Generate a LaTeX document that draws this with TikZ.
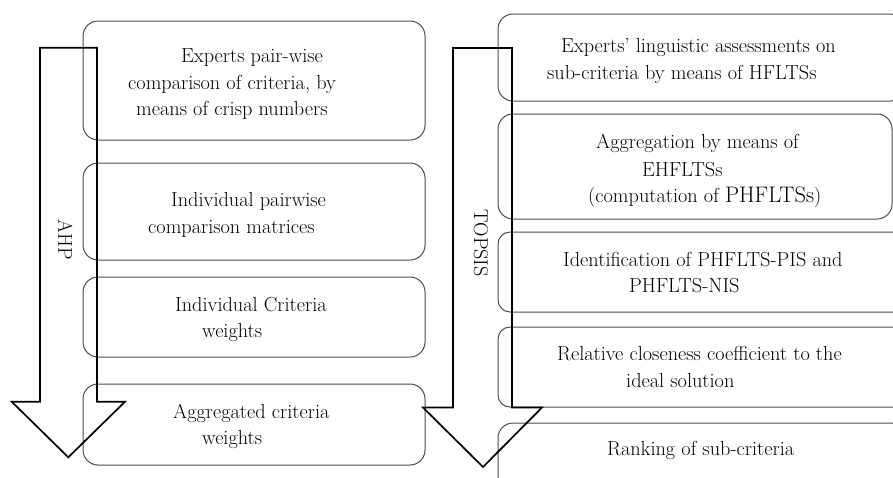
\documentclass[tikz,border=0pt]{standalone}
\begin{document}
\begin{tikzpicture}[x=1pt,y=-1pt,
  box/.style={draw=black!70, line width=1pt, rounded corners=15pt, inner sep=0pt},
  bigarrow/.style={draw=black, line width=1.7pt, line join=miter},
  txt/.style={anchor=base west, inner sep=0pt, font=\fontsize{20.3}{24}\selectfont},
  lbl/.style={inner sep=0pt, rotate=-90, font=\fontsize{20}{24}\selectfont}]
\useasboundingbox (0,0) rectangle (893,477);
\clip (0,0) rectangle (893,477);
% left boxes
\node[box, minimum width=342pt, minimum height=119pt] (l1) at (254,80.5) {};
\node[box, minimum width=342pt, minimum height=97pt] (l2) at (254,211.5) {};
\node[box, minimum width=342pt, minimum height=80pt] (l3) at (254,317) {};
\node[box, minimum width=342pt, minimum height=81pt] (l4) at (254,424.5) {};
% right boxes
\node[box, minimum width=407pt, minimum height=87pt] (r1) at (701.5,57.5) {};
\node[box, minimum width=394pt, minimum height=105pt] (r2) at (695,166.5) {};
\node[box, minimum width=407pt, minimum height=80pt, rounded corners=12pt] (r3) at (701.5,272) {};
\node[box, minimum width=407pt, minimum height=80pt, rounded corners=12pt] (r4) at (701.5,367) {};
\node[box, minimum width=407pt, minimum height=77pt] (r5) at (701.5,461.5) {};
% arrows
\draw[bigarrow] (40,47.7) -- (97,47.7) -- (97,401.7) -- (125,401.7) -- (68.3,457.3) -- (11.7,401.7) -- (40,401.7) -- cycle;
\draw[bigarrow] (453,48) -- (512,48) -- (512,407.5) -- (542,407.5) -- (483,467) -- (423,407.5) -- (453,407.5) -- cycle;
\node[lbl] (ahp) at (65.5,239.5) {AHP};
\node[lbl] (topsis) at (481,243) {TOPSIS};
% left texts
\node[txt] (t11) at (181,62) {Experts pair-wise};
\node[txt] (t12) at (128,89) {comparison of criteria, by};
\node[txt] (t13) at (136,115) {means of crisp numbers};
\node[txt] (t21) at (171,206) {Individual pairwise};
\node[txt] (t22) at (148,233) {comparison matrices};
\node[txt] (t31) at (175,311) {Individual Criteria};
\node[txt] (t32) at (202,337) {weights};
\node[txt] (t41) at (173,418) {Aggregated criteria};
\node[txt] (t42) at (202,444) {weights};
% right texts
\node[txt] (s11) at (561,52) {Experts’ linguistic assessments on};
\node[txt] (s12) at (547,79) {sub-criteria by means of HFLTSs};
\node[txt] (s21) at (596,148) {Aggregation by means of};
\node[txt] (s22) at (642,176) {EHFLTSs};
\node[txt] (s23) at (588,202) {(computation of {\fontsize{22.5}{24}\selectfont PHFLTSs})};
\node[txt] (s31) at (563,266) {Identification of PHFLTS-PIS and};
\node[txt] (s32) at (629,292) {PHFLTS-NIS};
\node[txt] (s41) at (557,360) {Relative closeness coefficient to the};
\node[txt] (s42) at (626,387) {ideal solution};
\node[txt] (s51) at (607,455) {Ranking of sub-criteria};
\end{tikzpicture}
\end{document}
